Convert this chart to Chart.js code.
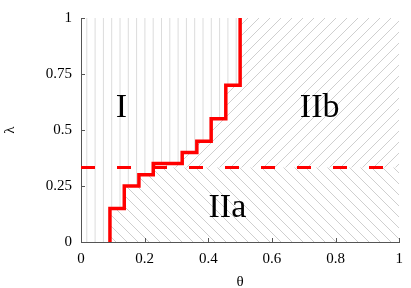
<!DOCTYPE html>
<html><head><meta charset="utf-8">
<script src="https://cdn.jsdelivr.net/npm/chart.js@4/dist/chart.umd.min.js"></script>
<style>html,body{margin:0;padding:0;background:#fff}#wrap{width:411px;height:288px;position:relative}</style>
</head><body><div id="wrap"><canvas id="c"></canvas></div>
<script>
// ---- data ----
const thetaSteps  = [0.091, 0.136, 0.182, 0.227, 0.318, 0.364, 0.409, 0.455, 0.5];
const lambdaSteps = [0.15, 0.25, 0.30, 0.35, 0.40, 0.45, 0.55, 0.70, 1.0];
const lambdaBoundary = 0.333;
const xTicks = [0, 0.2, 0.4, 0.6, 0.8, 1];
const yTicks = [0, 0.25, 0.5, 0.75, 1];
const regionNames = ['I', 'IIb', 'IIa'];

const stepPoints = [{x: thetaSteps[0], y: 0}].concat(thetaSteps.map((t, i) => ({x: t, y: lambdaSteps[i]})));
const boundaryPoints = [{x: 0, y: lambdaBoundary}, {x: 1, y: lambdaBoundary}];

const FONT = '"Liberation Serif", "Times New Roman", serif';
const AXIS = '#555';

function tracePath(ctx, X, Y) {
  ctx.lineTo(X(thetaSteps[0]), Y(0));
  for (let i = 0; i < thetaSteps.length; i++) {
    ctx.lineTo(X(thetaSteps[i]), Y(lambdaSteps[i]));
    if (i + 1 < thetaSteps.length) ctx.lineTo(X(thetaSteps[i + 1]), Y(lambdaSteps[i]));
  }
}

const hatchPlugin = {
  id: 'hatch',
  beforeDatasetsDraw(chart) {
    const {ctx, chartArea: a, scales: {x, y}} = chart;
    const X = v => x.getPixelForValue(v), Y = v => y.getPixelForValue(v);
    ctx.save();
    ctx.beginPath(); ctx.rect(a.left, a.top, a.right - a.left, a.bottom - a.top); ctx.clip();
    // Region I: vertical hatching
    ctx.save();
    ctx.beginPath(); ctx.moveTo(X(0), Y(0)); tracePath(ctx, X, Y); ctx.lineTo(X(0), Y(1)); ctx.closePath(); ctx.clip();
    ctx.strokeStyle = '#dcdcdc'; ctx.lineWidth = 1;
    ctx.beginPath();
    for (let px = a.left + 5.8; px < a.right; px += 8.3) { ctx.moveTo(px, a.top); ctx.lineTo(px, a.bottom); }
    ctx.stroke();
    ctx.restore();
    // right region
    const yb = Y(lambdaBoundary);
    const H = a.bottom - a.top;
    [['up', a.top, yb], ['down', yb, a.bottom]].forEach(([dir, t, b]) => {
      ctx.save();
      ctx.beginPath(); ctx.moveTo(X(1), Y(0)); tracePath(ctx, X, Y); ctx.lineTo(X(1), Y(1)); ctx.closePath(); ctx.clip();
      ctx.beginPath(); ctx.rect(a.left, t, a.right - a.left, b - t); ctx.clip();
      ctx.strokeStyle = '#cfcfcf'; ctx.lineWidth = 1;
      ctx.beginPath();
      for (let px = a.left - H - 20; px < a.right + H + 20; px += 11) {
        if (dir === 'up') { ctx.moveTo(px, a.bottom); ctx.lineTo(px + H, a.top); }
        else { ctx.moveTo(px, a.top); ctx.lineTo(px + H, a.bottom); }
      }
      ctx.stroke();
      ctx.restore();
    });
    ctx.restore();
  },
  afterDraw(chart) {
    const {ctx, chartArea: a, scales: {x, y}} = chart;
    const X = v => x.getPixelForValue(v), Y = v => y.getPixelForValue(v);
    ctx.save();
    ctx.strokeStyle = AXIS; ctx.lineWidth = 1;
    ctx.beginPath();
    x.ticks.forEach(t => { const px = Math.round(X(t.value)) + 0.5; ctx.moveTo(px, a.bottom); ctx.lineTo(px, a.bottom - 4); });
    y.ticks.forEach(t => { const py = Math.round(Y(t.value)) + 0.5; ctx.moveTo(a.left, py); ctx.lineTo(a.left + 4, py); });
    ctx.stroke();
    // region labels
    const anchors = [[0.127, 0.56], [0.75, 0.56], [0.46, 0.113]];
    ctx.fillStyle = '#000';
    ctx.font = '34px ' + FONT;
    ctx.textAlign = 'center'; ctx.textBaseline = 'alphabetic';
    regionNames.forEach((n, i) => ctx.fillText(n, X(anchors[i][0]), Y(anchors[i][1])));
    ctx.restore();
  }
};

new Chart(document.getElementById('c'), {
  type: 'line',
  data: {
    datasets: [
      {data: stepPoints, stepped: 'before', borderColor: '#ff0000', borderWidth: 3.5, pointRadius: 0, fill: false, borderCapStyle: 'butt', borderJoinStyle: 'miter'},
      {data: boundaryPoints, borderColor: '#ff0000', borderWidth: 3, borderDash: [14, 22], pointRadius: 0, fill: false}
    ]
  },
  options: {
    responsive: true, maintainAspectRatio: false, animation: false,
    layout: {padding: {top: 12, right: 11, left: 0, bottom: 0}},
    plugins: {legend: {display: false}, tooltip: {enabled: false}},
    scales: {
      x: {
        type: 'linear', min: 0, max: 1,
        afterBuildTicks: s => { s.ticks = xTicks.map(v => ({value: v})); },
        afterFit: s => { s.height = 46; },
        grid: {display: true, drawOnChartArea: false, drawTicks: false},
        border: {display: true, color: AXIS, width: 1},
        ticks: {padding: 8, color: '#000', font: {family: FONT, size: 15}, callback: v => String(v), maxRotation: 0},
        title: {display: true, text: 'θ', color: '#000', font: {family: FONT, size: 15, lineHeight: 0.85}, padding: {top: 0, bottom: 0}}
      },
      y: {
        type: 'linear', min: 0, max: 1,
        afterBuildTicks: s => { s.ticks = yTicks.map(v => ({value: v})); },
        afterFit: s => { s.width = 81; },
        grid: {display: true, drawOnChartArea: false, drawTicks: false},
        border: {display: true, color: AXIS, width: 1},
        ticks: {padding: 9, color: '#000', font: {family: FONT, size: 15}, callback: v => String(v)},
        title: {display: true, text: 'λ', color: '#000', font: {family: FONT, size: 15, lineHeight: 1}, padding: {top: 3, bottom: 0}}
      }
    }
  },
  plugins: [hatchPlugin]
});
</script>
</body></html>
